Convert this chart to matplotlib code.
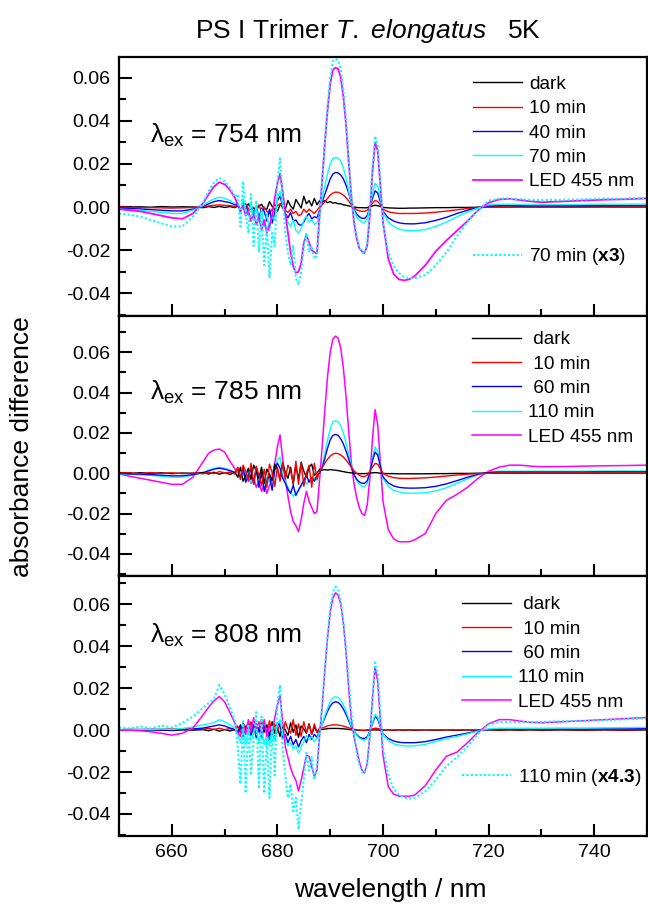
import numpy as np
import matplotlib
matplotlib.use('Agg')
import matplotlib.pyplot as plt
from matplotlib.lines import Line2D
from matplotlib.ticker import MultipleLocator, FormatStrFormatter

plt.rcParams['font.family'] = ['Liberation Sans', 'DejaVu Sans']
plt.rcParams['mathtext.fontset'] = 'custom'
plt.rcParams['mathtext.rm'] = 'Liberation Sans'
plt.rcParams['mathtext.it'] = 'Liberation Sans:italic'
plt.rcParams['mathtext.bf'] = 'Liberation Sans:bold'
plt.rcParams['axes.unicode_minus'] = False

# wavelength grid (nm)
wl = [650, 652, 654, 656, 658, 660, 662, 664,
      666, 667, 668, 669, 670, 671, 672,
      672.5, 673, 673.5, 674, 674.5, 675, 675.5, 676, 676.5, 677, 677.5, 678, 678.5, 679, 679.5, 680,
      680.5, 681, 681.5, 682, 682.5, 683, 683.5, 684, 684.5, 685, 685.5, 686, 686.5, 687, 687.5, 688,
      688.5, 689, 689.5, 690, 690.5, 691, 691.5, 692, 692.5, 693, 693.5, 694,
      694.5, 695, 695.5, 696, 696.5, 697, 697.5, 698, 698.5, 699, 699.5, 700,
      701, 702, 703, 704, 705, 706,
      708, 710, 712, 714, 716, 718, 720, 722, 724, 726, 728, 730,
      734, 738, 742, 746, 750]

# absorbance differences in units of 1e-3
# --- lambda_ex = 754 nm ---
top_dark = [0.2, 0.0, 0.1, -0.1, 0.2, 0.0, 0.1, 0.0,
            -0.3, 0.2, -0.2, 0.3, -0.2, 0.2, -0.3,
            0.5, -1.5, 1.0, 0.2, 1.5, -1.0, -0.3, -1.5, 0.5, 1.2, -0.8, -1.0, 2.5, 0.3, -1.2, -2.0,
            1.0, 2.0, -1.0, 3.0, 0.5, -1.0, 3.5, 1.5, -0.5, 5.0, 1.5, 3.0, 0.5, 4.0, 1.0, 3.0,
            2.5, 3.0, 2.0, 2.5, 1.8, 2.0, 1.5, 1.5, 1.0, 0.8, 0.5, 0.2,
            0.0, -0.2, -0.3, -0.3, -0.4, -0.3, 0.2, 0.5, 0.8, 0.6, 0.2, -0.2,
            -0.4, -0.5, -0.6, -0.6, -0.5, -0.5,
            -0.4, -0.3, -0.3, -0.2, -0.2, -0.1, 0.0, 0.0, 0.0, 0.1, 0.0, 0.0,
            0.0, 0.0, 0.1, 0.0, 0.0]
top_10 = [0.0, -0.2, -0.3, -0.3, -0.4, -0.5, -0.4, -0.2,
          0.2, 0.5, 0.8, 1.0, 0.8, 0.6, 0.3,
          1.0, -1.5, 0.2, 1.5, -1.0, 0.5, -2.0, -0.5, 1.0, -2.5, 0.0, -2.0, -3.0, -1.0, 1.0, 0.5,
          1.5, -0.5, -1.5, -2.5, -1.0, -3.0, -2.0, -4.0, -3.5, -1.0, -2.5, -1.0, -2.0, -3.0, -1.5, 0.0,
          1.0, 2.5, 4.0, 5.5, 6.5, 6.9, 6.8, 6.3, 5.5, 4.3, 2.8, 1.0,
          -0.3, -1.2, -1.8, -2.0, -2.0, -1.5, 0.0, 1.8, 3.0, 2.6, 1.0, -1.0,
          -2.2, -2.7, -3.0, -3.0, -3.0, -3.0,
          -2.8, -2.4, -1.9, -1.3, -0.7, -0.2, 0.1, 0.1, 0.0, 0.0, 0.0, 0.0,
          0.0, 0.0, 0.0, 0.0, 0.0]
top_40 = [-0.5, -0.7, -0.9, -1.2, -1.5, -1.8, -1.8, -1.0,
          0.5, 1.5, 2.5, 3.0, 2.5, 2.0, 1.0,
          1.5, -2.0, 2.5, 0.5, -2.5, 1.0, -4.0, 0.5, -5.0, -0.5, -2.0, -6.5, -1.0, -7.5, -2.5, 3.0,
          5.0, 0.5, -3.0, -5.0, -2.5, -6.5, -6.0, -8.0, -8.5, -7.0, -4.5, -3.0, -5.5, -4.5, -5.0, -1.5,
          2.5, 6.0, 9.5, 13.0, 15.3, 16.0, 15.8, 14.8, 13.0, 10.0, 6.5, 2.0,
          -1.0, -3.2, -4.5, -5.2, -5.3, -4.0, -0.5, 4.0, 7.5, 6.5, 2.5, -2.0,
          -5.0, -6.5, -7.3, -7.7, -7.8, -7.8,
          -7.3, -6.2, -4.8, -3.0, -1.5, -0.3, 0.5, 0.7, 0.7, 0.6, 0.6, 0.6,
          0.6, 0.6, 0.7, 0.7, 0.7]
top_70 = [-1.0, -1.2, -1.5, -2.0, -2.5, -3.0, -3.0, -1.5,
          0.8, 2.5, 3.8, 4.5, 4.0, 3.0, 1.5,
          2.0, -3.0, 4.0, -1.0, -4.0, 2.0, -6.0, 1.0, -7.0, -1.0, -9.0, -3.0, -11.0, -4.0, -6.0, 4.0,
          7.5, 1.0, -4.0, -7.0, -9.0, -6.0, -11.0, -12.0, -10.0, -6.0, -4.0, -7.0, -6.0, -8.0, -7.5, -2.0,
          4.3, 10.0, 15.5, 20.0, 22.5, 22.9, 22.7, 21.2, 18.0, 13.5, 7.5, 2.0,
          -1.5, -4.5, -6.0, -7.0, -7.2, -5.5, -0.5, 6.0, 11.0, 9.5, 4.0, -2.5,
          -7.0, -9.0, -10.2, -10.8, -11.0, -11.0,
          -10.5, -9.0, -7.0, -4.5, -2.3, -0.5, 1.0, 1.3, 1.3, 1.2, 1.1, 1.1,
          1.1, 1.2, 1.3, 1.3, 1.4]
top_led = [-1.0, -1.5, -2.0, -3.0, -4.0, -5.0, -5.5, -3.0,
           2.0, 6.0, 9.5, 11.5, 10.5, 8.0, 4.0,
           1.0, -2.0, 0.5, -4.0, -1.5, -6.5, -3.0, -8.0, -4.5, -10.5, -6.0, -12.0, -8.5, -4.0, 4.0, 11.0,
           15.5, 7.0, -3.0, -12.0, -21.0, -27.5, -30.5, -30.0, -26.0, -16.5, -13.0, -16.5, -20.0, -21.0, -21.5, -3.0,
           13.0, 30.0, 45.0, 57.0, 63.5, 64.6, 64.0, 60.0, 51.0, 38.0, 21.0, 5.0,
           -7.0, -14.5, -19.0, -20.5, -21.4, -18.0, -4.0, 16.0, 30.0, 26.0, 10.0, -7.0,
           -24.0, -31.0, -33.5, -34.0, -33.5, -32.0,
           -27.0, -20.5, -15.5, -11.0, -6.5, -1.5, 2.0, 3.5, 3.8, 3.2, 2.6, 2.2,
           2.6, 3.0, 3.4, 3.6, 4.0]
top_factor = 3

# --- lambda_ex = 785 nm ---
mid_dark = [0.2, -0.2, 0.3, -0.1, 0.2, -0.2, 0.1, -0.1,
            0.3, -0.4, 0.5, -0.5, 0.3, -0.6, 0.4,
            -2.0, 3.0, -4.0, -1.0, 2.5, -3.0, 4.0, 1.0, -2.5, 3.0, -5.0, 2.0, -0.5, -3.5, 4.5, 2.0,
            -3.0, 5.0, 0.5, -2.5, 3.0, -5.5, 4.0, -3.0, 5.5, 1.0, -2.0, 3.0, 4.5, -1.0, 0.0, 2.0,
            1.5, 1.8, 1.5, 1.8, 1.6, 1.5, 1.3, 1.0, 0.8, 0.5, 0.3, 0.2,
            0.0, -0.1, -0.2, -0.2, -0.2, -0.1, 0.0, 0.2, 0.3, 0.2, 0.0, -0.1,
            -0.2, -0.2, -0.3, -0.3, -0.3, -0.3,
            -0.3, -0.2, -0.2, -0.1, -0.1, 0.0, 0.0, 0.0, 0.0, 0.0, 0.0, 0.0,
            0.0, 0.0, 0.0, 0.0, 0.0]
mid_10 = [0.0, 0.2, -0.2, 0.3, -0.1, 0.2, -0.2, 0.1,
          -0.3, 0.5, -0.2, 0.8, 0.2, 0.5, -0.5,
          3.0, -2.5, 4.0, 1.0, -4.0, 5.0, -5.5, 3.5, -1.0, -6.0, 2.0, -7.0, 4.5, 0.5, -6.5, 3.0,
          -4.0, 5.5, -3.0, 4.0, 1.0, -5.0, 6.0, -5.5, 5.0, -6.5, 0.0, 4.0, -7.0, 5.0, -3.0, 1.0,
          3.0, 5.0, 7.0, 8.5, 9.5, 9.9, 9.7, 9.0, 8.0, 6.5, 4.8, 3.0,
          1.2, 0.0, -1.0, -1.6, -1.7, -1.0, 0.8, 3.0, 4.9, 4.5, 2.2, 0.0,
          -1.5, -2.2, -2.5, -2.6, -2.6, -2.5,
          -2.3, -1.9, -1.4, -0.9, -0.5, -0.2, 0.0, 0.1, 0.1, 0.1, 0.1, 0.1,
          0.1, 0.1, 0.1, 0.1, 0.1]
mid_60 = [-0.2, -0.3, -0.5, -0.7, -1.0, -1.3, -1.3, -0.7,
          0.3, 1.2, 2.0, 2.5, 2.0, 1.3, 0.3,
          2.5, -3.0, 3.0, -4.5, -1.0, 2.0, -5.5, 3.0, -7.0, 0.5, -9.0, -4.0, -1.0, -8.5, 1.5, 5.0,
          2.5, -2.5, -5.0, -8.0, -10.0, -6.0, -11.0, -8.5, -6.0, -3.5, -1.0, -4.5, -2.0, -4.0, -1.0, 0.0,
          3.0, 7.5, 12.5, 16.5, 18.8, 19.2, 18.8, 17.0, 14.5, 11.0, 7.0, 3.0,
          -0.5, -3.0, -4.3, -5.0, -5.0, -3.8, 0.2, 6.0, 10.5, 9.0, 3.5, -1.8,
          -4.8, -6.3, -7.0, -7.3, -7.4, -7.4,
          -7.2, -6.5, -5.3, -3.7, -2.0, -0.5, 0.4, 0.6, 0.6, 0.6, 0.6, 0.6,
          0.6, 0.6, 0.7, 0.7, 0.7]
mid_110 = [-0.3, -0.5, -0.8, -1.0, -1.5, -2.0, -2.0, -1.0,
           0.5, 1.5, 2.5, 3.0, 2.5, 1.5, 0.5,
           1.5, -2.0, 2.5, -3.0, 1.0, -4.5, -1.5, 0.5, -5.5, -1.0, -6.5, -2.0, -5.0, 1.0, 3.0, 6.5,
           8.0, -1.0, -4.0, -7.0, -9.5, -11.5, -10.0, -8.0, -6.0, -3.0, -5.5, -3.0, -4.5, -2.0, -3.5, 0.0,
           4.0, 10.0, 16.5, 22.0, 25.5, 26.0, 25.5, 23.5, 20.0, 15.0, 9.5, 4.0,
           -0.5, -3.5, -5.5, -6.5, -6.6, -5.0, 0.0, 7.5, 13.0, 11.0, 4.0, -2.5,
           -6.5, -8.5, -9.3, -9.8, -9.9, -9.9,
           -9.7, -8.8, -7.2, -5.0, -2.8, -0.8, 0.6, 1.0, 1.0, 1.0, 1.0, 1.0,
           1.0, 1.0, 1.1, 1.1, 1.1]
mid_led = [-0.3, -1.5, -2.5, -3.5, -4.5, -5.5, -5.5, -2.0,
           6.0, 10.0, 11.5, 12.0, 10.5, 6.0, 2.0,
           0.5, -1.5, 1.0, -3.0, -1.0, -5.0, -2.0, -7.0, -4.0, -9.0, -5.0, -10.0, -6.0, -3.0, 5.0, 13.0,
           19.0, 7.0, -3.0, -11.5, -19.0, -24.0, -26.0, -29.0, -23.0, -15.0, -9.0, -14.0, -17.0, -20.0, -19.0, -3.0,
           14.0, 32.0, 48.0, 60.0, 66.5, 68.0, 67.0, 62.0, 52.0, 38.0, 21.0, 5.0,
           -5.0, -12.0, -17.0, -20.0, -21.0, -16.0, -3.0, 17.0, 31.5, 24.0, 5.0, -14.0,
           -28.0, -32.5, -34.0, -34.0, -34.0, -33.0,
           -30.0, -20.0, -13.5, -10.5, -7.0, -2.5, 1.0, 3.0, 4.0, 4.0, 3.5, 3.2,
           3.3, 3.5, 3.7, 3.8, 4.0]

# --- lambda_ex = 808 nm ---
bot_dark = [0.0, 0.2, -0.1, 0.1, 0.0, -0.2, 0.1, 0.0,
            0.2, -0.3, 0.4, -0.5, 0.3, -0.4, 0.2,
            -1.0, 2.5, -2.0, 0.5, 3.5, -1.5, 2.0, -3.0, 1.0, 3.0, -1.0, 2.5, -2.5, 4.0, -1.5, 1.5,
            -3.0, 2.0, 0.0, -2.5, 3.5, -1.0, 2.5, -3.5, 2.0, 0.5, -1.5, 3.0, -2.0, 1.5, -1.0, 0.5,
            0.3, 0.5, 0.7, 0.8, 0.8, 0.8, 0.8, 0.7, 0.6, 0.5, 0.3, 0.2,
            0.1, 0.0, 0.0, -0.1, -0.1, 0.0, 0.0, 0.1, 0.1, 0.1, 0.0, 0.0,
            0.1, -0.1, 0.1, -0.1, 0.1, -0.1,
            0.1, -0.1, 0.1, -0.1, 0.1, -0.1, 0.1, -0.1, 0.1, -0.1, 0.1, -0.1,
            0.1, -0.1, 0.1, -0.1, 0.1]
bot_10 = [0.2, 0.4, 0.3, 0.5, 0.4, 0.6, 0.4, 0.6,
          0.5, 0.8, 0.3, 0.9, 0.2, 0.7, 0.0,
          2.0, -1.5, 3.5, 1.0, -1.0, 4.0, -2.0, 3.0, -0.5, 5.0, 1.0, -1.5, 4.5, -2.0, 3.0, -1.0,
          3.5, -2.0, 4.0, 0.5, -1.5, 5.0, -2.5, 3.0, -3.0, 4.0, -1.0, 2.5, -2.0, 3.0, -1.0, 1.0,
          1.0, 1.5, 2.0, 2.3, 2.5, 2.5, 2.4, 2.2, 1.9, 1.5, 1.1, 0.7,
          0.4, 0.2, 0.0, -0.1, -0.1, 0.0, 0.3, 0.6, 0.9, 0.8, 0.4, 0.2,
          0.1, 0.1, 0.2, 0.1, 0.2, 0.1,
          0.2, 0.1, 0.2, 0.1, 0.2, 0.1, 0.2, 0.1, 0.2, 0.1, 0.2, 0.1,
          0.2, 0.1, 0.2, 0.1, 0.2]
bot_60 = [0.1, 0.0, 0.2, 0.0, 0.1, 0.0, 0.3, 0.5,
          1.0, 1.5, 2.0, 2.5, 2.0, 1.0, 0.3,
          -1.5, 1.5, -3.0, 2.0, -0.5, -2.5, 2.5, -3.5, 1.0, -4.0, 2.0, -1.0, -4.5, 0.5, -5.0, 3.5,
          2.0, -4.0, -2.0, -6.0, -3.0, -7.0, -4.5, -8.0, -5.0, -3.0, -6.0, -2.0, -4.5, -2.0, -3.5, 0.0,
          3.0, 6.0, 9.0, 11.5, 13.0, 13.5, 13.2, 12.0, 10.0, 7.5, 4.5, 1.5,
          -0.5, -2.2, -3.3, -3.9, -4.0, -3.2, -0.5, 3.0, 6.5, 5.3, 1.5, -1.8,
          -4.0, -5.2, -5.8, -6.0, -6.0, -6.0,
          -5.5, -4.5, -3.3, -2.4, -1.4, -0.3, 0.3, 0.5, 0.5, 0.5, 0.5, 0.5,
          0.5, 0.5, 0.6, 0.6, 0.7]
bot_110 = [0.3, 0.2, 0.4, 0.2, 0.5, 0.3, 0.8, 1.5,
           2.5, 3.0, 3.5, 5.0, 4.0, 2.5, 1.0,
           -2.0, -6.0, 1.0, -7.0, 0.5, -5.0, -1.0, 2.0, -6.5, 1.5, -7.0, -1.0, -7.5, 0.5, -5.0, 3.0,
           5.0, -2.0, -5.0, -7.5, -6.0, -9.0, -7.5, -11.0, -8.0, -5.5, -2.5, -4.5, -3.0, -5.5, -4.0, -0.5,
           3.0, 7.0, 10.5, 13.5, 15.3, 15.9, 15.6, 14.3, 12.0, 9.0, 5.5, 2.0,
           -0.5, -2.5, -3.8, -4.6, -4.8, -3.8, -0.8, 3.5, 7.5, 6.3, 2.0, -2.0,
           -5.0, -6.5, -7.2, -7.5, -7.6, -7.5,
           -6.8, -5.5, -4.0, -3.0, -1.8, -0.4, 0.6, 0.9, 0.9, 0.9, 0.9, 0.9,
           1.0, 1.0, 1.1, 1.2, 1.3]
bot_led = [0.0, 0.0, -0.3, -0.8, -1.5, -2.4, -1.5, 1.0,
           7.5, 11.0, 14.0, 16.0, 13.5, 8.5, 3.0,
           -1.0, -3.0, 2.0, -2.0, 5.0, -1.0, 6.0, 0.5, 4.0, -2.0, 5.0, -3.0, 2.0, -1.0, 6.0, 12.0,
           16.5, 4.0, -8.0, -13.0, -18.0, -21.5, -24.0, -29.0, -24.0, -18.0, -12.0, -12.5, -17.5, -22.0, -19.0, -2.0,
           12.0, 29.0, 44.0, 56.0, 63.0, 65.5, 64.5, 60.0, 51.0, 37.0, 20.0, 5.0,
           -3.0, -9.0, -15.0, -19.0, -20.5, -16.0, -3.0, 15.0, 30.0, 23.0, 5.0, -12.0,
           -27.0, -30.5, -31.5, -31.5, -31.5, -31.0,
           -26.5, -19.0, -12.5, -10.5, -6.0, -1.0, 3.0, 5.0, 5.0, 4.3, 3.7, 3.5,
           4.0, 4.5, 5.0, 5.5, 6.0]
bot_factor = 4.3

C_DARK, C_RED, C_BLUE, C_CYAN, C_MAG = 'black', '#ff0000', '#0000ff', '#00ffff', '#ff00ff'
DOTS = (0, (1, 1.1))

W = 648.0
H = 908.0
fig = plt.figure(figsize=(W / 100, H / 100), dpi=100)


def make_axes(top_px, bot_px):
    return fig.add_axes([119 / W, 1 - bot_px / H, 528 / W, (bot_px - top_px) / H])


def style_axes(ax, ylim, xlabels):
    ax.set_xlim(650, 750)
    ax.set_ylim(*ylim)
    ax.xaxis.set_major_locator(MultipleLocator(20))
    ax.xaxis.set_minor_locator(MultipleLocator(10))
    ax.yaxis.set_major_locator(MultipleLocator(0.02))
    ax.yaxis.set_minor_locator(MultipleLocator(0.01))
    ax.yaxis.set_major_formatter(FormatStrFormatter('%.2f'))
    ax.tick_params(which='both', direction='in', width=1.5, labelsize=14, pad=6)
    ax.tick_params(which='major', length=9)
    ax.tick_params(which='minor', length=5)
    if not xlabels:
        ax.tick_params(labelbottom=False)
    for s in ax.spines.values():
        s.set_linewidth(1.6)


def plot_mod(ax, vals, color, label, **kw):
    line, = ax.plot(wl, np.array(vals) / 1000.0, color=color, label=label, **kw)
    return line


blank = Line2D([], [], linestyle='none')
leg_kw = dict(loc='upper left', frameon=False, fontsize=13.7, handlelength=2.6,
              handletextpad=0.35, labelspacing=0.37, borderpad=0, borderaxespad=0)

# top panel: 754 nm
ax1 = make_axes(57, 316)
l_dark = plot_mod(ax1, top_dark, C_DARK, 'dark', lw=1.0)
l_10 = plot_mod(ax1, top_10, C_RED, '10 min', lw=1.0)
l_40 = plot_mod(ax1, top_40, C_BLUE, '40 min', lw=1.0)
l_70 = plot_mod(ax1, top_70, C_CYAN, '70 min', lw=1.0)
l_led = plot_mod(ax1, top_led, C_MAG, 'LED 455 nm', lw=1.3)
l_x3 = ax1.plot(wl, np.array(top_70) * top_factor / 1000.0, color=C_CYAN, ls=DOTS, lw=1.5)[0]
style_axes(ax1, (-0.0505, 0.0695), False)
ax1.legend([l_dark, l_10, l_40, l_70, l_led, blank, blank, l_x3],
           ['dark', '10 min', '40 min', '70 min', 'LED 455 nm', ' ', ' ', r'70 min ($\mathbf{x3}$)'],
           bbox_to_anchor=(0.670, 0.928), **leg_kw)
ax1.text(0.059, 0.670, r'λ$_{\mathrm{ex}}$ = 754 nm', transform=ax1.transAxes, fontsize=19, va='baseline')

# middle panel: 785 nm
ax2 = make_axes(316, 576)
m_led = plot_mod(ax2, mid_led, C_MAG, 'LED 455 nm', lw=1.1)
m_110 = plot_mod(ax2, mid_110, C_CYAN, '110 min', lw=1.0)
m_60 = plot_mod(ax2, mid_60, C_BLUE, ' 60 min', lw=1.0)
m_dark = plot_mod(ax2, mid_dark, C_DARK, ' dark', lw=1.0)
m_10 = plot_mod(ax2, mid_10, C_RED, ' 10 min', lw=1.0)
style_axes(ax2, (-0.051, 0.078), False)
ax2.legend([m_dark, m_10, m_60, m_110, m_led],
           [' dark', ' 10 min', ' 60 min', '110 min', 'LED 455 nm'],
           bbox_to_anchor=(0.668, 0.942), **leg_kw)
ax2.text(0.059, 0.677, r'λ$_{\mathrm{ex}}$ = 785 nm', transform=ax2.transAxes, fontsize=19, va='baseline')

# bottom panel: 808 nm
ax3 = make_axes(576, 836)
b_dark = plot_mod(ax3, bot_dark, C_DARK, ' dark', lw=1.0)
b_10 = plot_mod(ax3, bot_10, C_RED, ' 10 min', lw=1.0)
b_60 = plot_mod(ax3, bot_60, C_BLUE, ' 60 min', lw=1.0)
b_110 = plot_mod(ax3, bot_110, C_CYAN, '110 min', lw=1.0)
b_led = plot_mod(ax3, bot_led, C_MAG, 'LED 455 nm', lw=1.1)
b_x = ax3.plot(wl, np.array(bot_110) * bot_factor / 1000.0, color=C_CYAN, ls=DOTS, lw=1.5)[0]
style_axes(ax3, (-0.0505, 0.0735), True)
ax3.legend([b_dark, b_10, b_60, b_110, b_led, blank, blank, b_x],
           [' dark', ' 10 min', ' 60 min', '110 min', 'LED 455 nm', ' ', ' ', r'110 min ($\mathbf{x4.3}$)'],
           bbox_to_anchor=(0.649, 0.923), **leg_kw)
ax3.text(0.059, 0.742, r'λ$_{\mathrm{ex}}$ = 808 nm', transform=ax3.transAxes, fontsize=19, va='baseline')

fig.text(368 / W, 1 - 31 / H, r'PS I Trimer $\mathit{T.\ elongatus}$   5K', fontsize=19,
         ha='center', va='center')
fig.text(22 / W, 1 - 447 / H, 'absorbance difference', fontsize=19, rotation=90,
         ha='center', va='center')
fig.text(390 / W, 1 - 890 / H, 'wavelength / nm', fontsize=19, ha='center', va='center')

fig.savefig('out.png', dpi=100)
